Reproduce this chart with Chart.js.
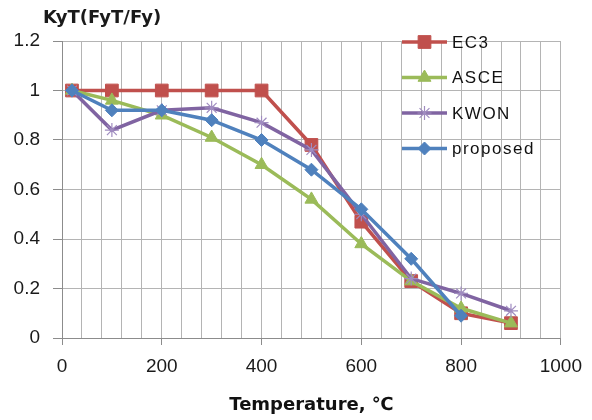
<!DOCTYPE html>
<html>
<head>
<meta charset="utf-8">
<script src="https://cdn.jsdelivr.net/npm/chart.js@4.4.0/dist/chart.umd.min.js"></script>
<style>
    html, body { margin: 0; padding: 0; background: #ffffff; font-family: "Liberation Sans", Arial, sans-serif; }
    #wrap { width: 592px; height: 420px; }
</style>
</head>
<body>
<div id="wrap"><canvas id="chart" width="592" height="420"></canvas></div>
<script>
// data
let temperatures = [20, 100, 200, 300, 400, 500, 600, 700, 800, 900];
let ec3Values = [1, 1, 1, 1, 1, 0.78, 0.47, 0.23, 0.1, 0.06];
let asceValues = [1, 0.96, 0.9, 0.81, 0.7, 0.56, 0.38, 0.23, 0.12, 0.06];
let kwonValues = [1, 0.84, 0.92, 0.93, 0.87, 0.76, 0.5, 0.24, 0.18, 0.11];
let proposedValues = [1, 0.92, 0.92, 0.88, 0.8, 0.68, 0.52, 0.32, 0.09, null];
let seriesNames = ['EC3', 'ASCE', 'KWON', 'proposed'];
let xTicks = [0, 200, 400, 600, 800, 1000];
let yTicks = [0, 0.2, 0.4, 0.6, 0.8, 1, 1.2];

let sansFamily = '"Liberation Sans", Arial, sans-serif';
let tickFont = { family: sansFamily, size: 19 };
let gridColor = '#b4b4b4';
let axisColor = '#8c8c8c';

Chart.defaults.font.family = sansFamily;


function makePoints(values) {
    let points = [];
    for (let i = 0; i < temperatures.length; i++) {
        points.push({ x: temperatures[i], y: values[i] });
    }
    return points;
}


function makeDataset(label, values, color, style, radius, order) {
    return {
        label: label,
        data: makePoints(values),
        borderColor: color,
        backgroundColor: color,
        borderWidth: 3.5,
        pointStyle: style,
        pointRadius: radius,
        pointBorderWidth: style == 'star' ? 1.2 : 1,
        pointBorderColor: style == 'star' ? '#a08cc0' : color,
        tension: 0,
        order: order
    };
}


/**
 * y軸タイトルと凡例をグラフの中に描く
 */
let headerAndLegend = {
    id: 'headerAndLegend',
    afterDraw(chart) {
        let ctx = chart.ctx;
        let area = chart.chartArea;
        ctx.save();

        // y軸タイトル
        ctx.fillStyle = '#1a1a1a';
        ctx.font = 'bold 18px "DejaVu Sans"';
        ctx.textAlign = 'left';
        ctx.textBaseline = 'middle';
        ctx.fillText('KyT(FyT/Fy)', area.left - 19, 18);

        // 凡例
        let metas = chart.data.datasets;
        let lineLeft = 402;
        let lineRight = 447;
        let rowY = 42;
        let rowStep = 35.5;
        ctx.font = '17px ' + sansFamily;
        if ('letterSpacing' in ctx) {
            ctx.letterSpacing = '1.5px';
        }
        for (let i = 0; i < metas.length; i++) {
            let ds = metas[i];
            let y = rowY + rowStep * i;
            ctx.strokeStyle = ds.borderColor;
            ctx.lineWidth = 3.5;
            ctx.beginPath();
            ctx.moveTo(lineLeft, y);
            ctx.lineTo(lineRight, y);
            ctx.stroke();
            ctx.fillStyle = ds.backgroundColor;
            ctx.strokeStyle = ds.pointBorderColor;
            ctx.lineWidth = ds.pointBorderWidth;
            Chart.helpers.drawPoint(ctx, {
                pointStyle: ds.pointStyle,
                radius: ds.pointRadius,
                borderWidth: ds.pointBorderWidth,
                rotation: 0
            }, (lineLeft + lineRight) / 2, y);
            ctx.fillStyle = '#111111';
            ctx.fillText(ds.label, lineRight + 5, y + 1);
        }
        ctx.restore();
    }
};


function createChart() {
    let ctx = document.getElementById('chart').getContext('2d');
    let chart = new Chart(ctx, {
        type: 'line',
        data: {
            datasets: [
                makeDataset(seriesNames[0], ec3Values, '#c0504d', 'rect', 9, 3),
                makeDataset(seriesNames[1], asceValues, '#9bbb59', 'triangle', 7.5, 2),
                makeDataset(seriesNames[2], kwonValues, '#8064a2', 'star', 7, 1),
                makeDataset(seriesNames[3], proposedValues, '#4f81bd', 'rectRot', 6.5, 0)
            ]
        },
        options: {
            responsive: false,
            animation: false,
            devicePixelRatio: 1,
            layout: {
                padding: { left: 0, right: 25, top: 41, bottom: 0 }
            },
            plugins: {
                legend: { display: false },
                tooltip: { enabled: false }
            },
            scales: {
                x: {
                    type: 'linear',
                    min: 0,
                    max: 1000,
                    afterBuildTicks: function (scale) {
                        // 40刻みの補助目盛りも縦線として描く
                        let ticks = [];
                        for (let v = scale.min; v <= scale.max; v += 40) {
                            ticks.push({ value: v });
                        }
                        scale.ticks = ticks;
                    },
                    afterFit: function (scale) {
                        scale.height = 82;
                    },
                    ticks: {
                        autoSkip: false,
                        maxRotation: 0,
                        padding: 10,
                        color: '#1a1a1a',
                        font: tickFont,
                        callback: function (value) {
                            return xTicks.indexOf(value) >= 0 ? String(value) : '';
                        }
                    },
                    grid: {
                        color: gridColor,
                        lineWidth: 1,
                        tickLength: 7,
                        tickColor: function (c) {
                            return c.tick && xTicks.indexOf(c.tick.value) >= 0 ? axisColor : 'rgba(0,0,0,0)';
                        }
                    },
                    border: { color: axisColor, width: 1 },
                    title: {
                        display: true,
                        text: 'Temperature, ℃',
                        color: '#111111',
                        font: { family: 'DejaVu Sans', size: 18, weight: 'bold' },
                        padding: { top: 0, bottom: 4 }
                    }
                },
                y: {
                    type: 'linear',
                    min: 0,
                    max: 1.2,
                    afterBuildTicks: function (scale) {
                        scale.ticks = yTicks.map(v => ({ value: v }));
                    },
                    afterFit: function (scale) {
                        scale.width = 62;
                    },
                    ticks: {
                        padding: 13,
                        color: '#1a1a1a',
                        font: tickFont,
                        callback: function (value) {
                            return String(+value.toFixed(1));
                        }
                    },
                    grid: {
                        color: gridColor,
                        lineWidth: 1,
                        tickLength: 9,
                        tickColor: axisColor
                    },
                    border: { color: axisColor, width: 1 }
                }
            }
        },
        plugins: [headerAndLegend]
    });
    return chart;
}

window.onload = function () {
    createChart();
};
</script>
</body>
</html>
